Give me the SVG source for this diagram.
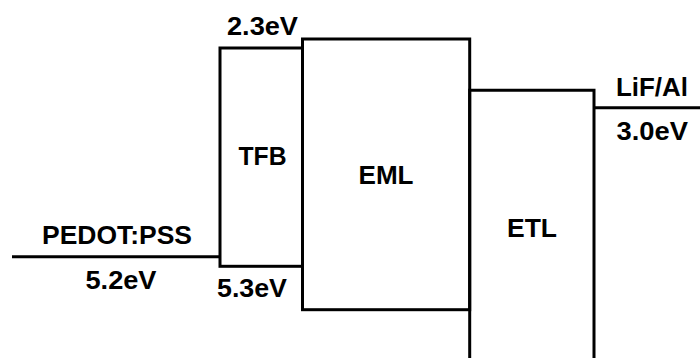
<svg xmlns="http://www.w3.org/2000/svg" width="700" height="358" viewBox="0 0 700 358">
<style>
.ln{fill:none;stroke:#000;stroke-width:3;stroke-linejoin:miter}
.t{font-family:"Liberation Sans",Arial,Helvetica,sans-serif;font-weight:bold;font-size:25px;fill:#000}
</style>
<rect width="700" height="358" fill="#fff"/>
<g id="pedot">
<path class="ln" d="M12,256.7 H220"/>
<text class="t" x="42" y="243.5" textLength="150" lengthAdjust="spacingAndGlyphs">PEDOT:PSS</text>
<text class="t" x="85.5" y="288.5" textLength="71" lengthAdjust="spacingAndGlyphs">5.2eV</text>
</g>
<g id="tfb">
<rect class="ln" x="220" y="48" width="82.5" height="218.3"/>
<text class="t" x="238.5" y="165" textLength="48" lengthAdjust="spacingAndGlyphs">TFB</text>
<text class="t" x="227" y="35" textLength="71" lengthAdjust="spacingAndGlyphs">2.3eV</text>
<text class="t" x="217" y="296.5" textLength="70" lengthAdjust="spacingAndGlyphs">5.3eV</text>
</g>
<g id="eml">
<rect class="ln" x="302.5" y="39" width="167.2" height="270.7"/>
<text class="t" x="358.5" y="183.5" textLength="55" lengthAdjust="spacingAndGlyphs">EML</text>
</g>
<g id="etl">
<path class="ln" d="M469.7,362 V90.3 H594 V362"/>
<text class="t" x="507" y="236.5" textLength="50" lengthAdjust="spacingAndGlyphs">ETL</text>
</g>
<g id="lifal">
<path class="ln" d="M594,107.7 H702"/>
<text class="t" x="616" y="96" textLength="72" lengthAdjust="spacingAndGlyphs">LiF/Al</text>
<text class="t" x="616.5" y="139.5" textLength="71.5" lengthAdjust="spacingAndGlyphs">3.0eV</text>
</g>
<g id="connectors"></g>
</svg>
